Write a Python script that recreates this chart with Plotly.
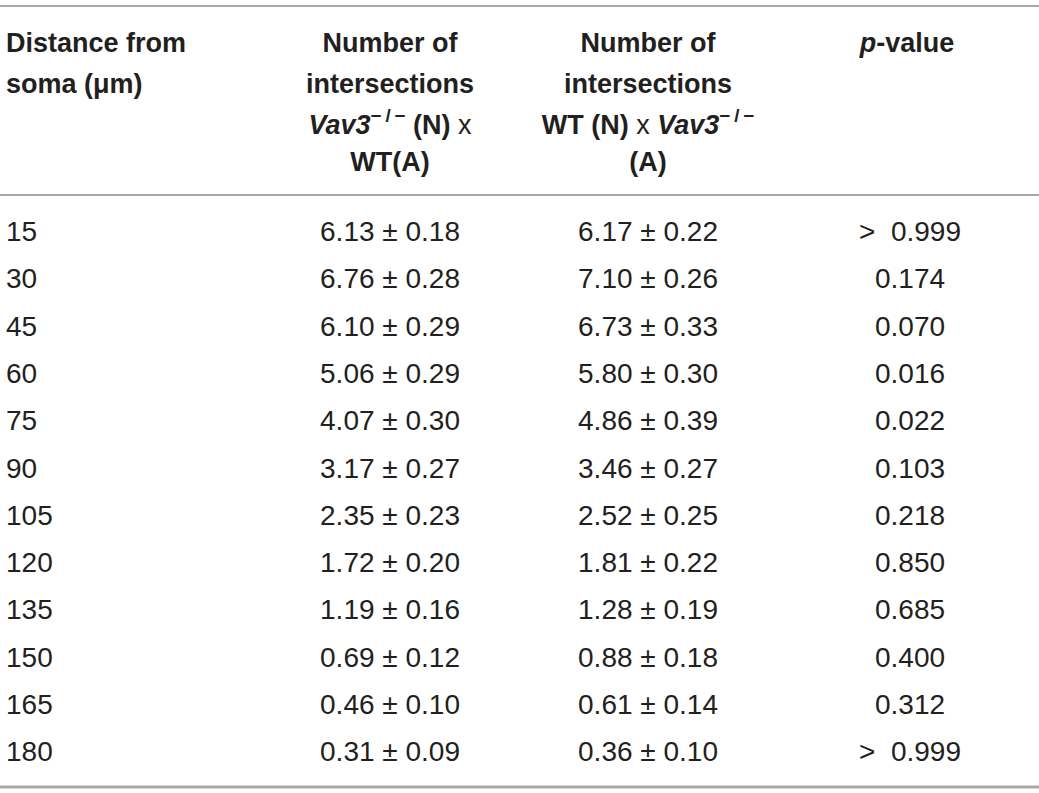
import plotly.graph_objects as go

# ---------------- data ----------------
distance = [15, 30, 45, 60, 75, 90, 105, 120, 135, 150, 165, 180]
ko_n_mean = [6.13, 6.76, 6.10, 5.06, 4.07, 3.17, 2.35, 1.72, 1.19, 0.69, 0.46, 0.31]
ko_n_sem = [0.18, 0.28, 0.29, 0.29, 0.30, 0.27, 0.23, 0.20, 0.16, 0.12, 0.10, 0.09]
wt_n_mean = [6.17, 7.10, 6.73, 5.80, 4.86, 3.46, 2.52, 1.81, 1.28, 0.88, 0.61, 0.36]
wt_n_sem = [0.22, 0.26, 0.33, 0.30, 0.39, 0.27, 0.25, 0.22, 0.19, 0.18, 0.14, 0.10]
p_values = [">  0.999", "0.174", "0.070", "0.016", "0.022", "0.103", "0.218",
            "0.850", "0.685", "0.400", "0.312", ">  0.999"]

vav = "<i>Vav3</i><sup>−\u2009/\u2009−</sup>"
header_col1 = ["Distance from", "soma (μm)"]
header_col2 = ["Number of", "intersections", vav + " (N) </b>x<b>", "WT(A)"]
header_col3 = ["Number of", "intersections", "WT (N) </b>x<b> " + vav, "(A)"]
header_col4 = ["<i>p</i>-value"]

# ---------------- layout constants ----------------
W, H = 1039, 793
TXT = "#231F20"
RULE = "#A8A8A8"
FONT = "Liberation Sans, Arial, Helvetica, sans-serif"
FS = 28
FSH = 27

row_y0, row_dy = 234, 47.3
head_y = [45, 86, 127, 164]
col_x = [6, 390, 648, 910]

row_y = [row_y0 + i * row_dy for i in range(len(distance))]

col2_txt = [f"{m:.2f} ± {s:.2f}" for m, s in zip(ko_n_mean, ko_n_sem)]
col3_txt = [f"{m:.2f} ± {s:.2f}" for m, s in zip(wt_n_mean, wt_n_sem)]

fig = go.Figure()

def add_text(xs, ys, texts, pos, bold=False):
    fig.add_trace(go.Scatter(
        x=xs, y=ys, mode="text", text=[f"<b>{t}</b>" if bold else t for t in texts],
        textposition=pos,
        textfont=dict(family=FONT, size=FSH if bold else FS, color=TXT),
        hoverinfo="skip", showlegend=False, cliponaxis=False))

# header
add_text([col_x[0]] * len(header_col1), head_y[:len(header_col1)], header_col1, "middle right", True)
add_text([col_x[1]] * len(header_col2), head_y[:len(header_col2)], header_col2, "middle center", True)
add_text([col_x[2]] * len(header_col3), head_y[:len(header_col3)], header_col3, "middle center", True)
add_text([col_x[3] - 3] * len(header_col4), head_y[:len(header_col4)], header_col4, "middle center", True)

# body
add_text([col_x[0]] * len(distance), row_y, [str(d) for d in distance], "middle right")
add_text([col_x[1]] * len(distance), row_y, col2_txt, "middle center")
add_text([col_x[2]] * len(distance), row_y, col3_txt, "middle center")
add_text([col_x[3]] * len(distance), row_y, p_values, "middle center")

# rules
for yy, lw in ((6, 2), (195, 2), (787, 3)):
    fig.add_shape(type="line", x0=0, x1=W, y0=yy, y1=yy, xref="x", yref="y",
                  line=dict(color=RULE, width=lw))

fig.update_layout(
    width=W, height=H, margin=dict(l=0, r=0, t=0, b=0),
    paper_bgcolor="white", plot_bgcolor="white",
    xaxis=dict(range=[0, W], visible=False, fixedrange=True),
    yaxis=dict(range=[H, 0], visible=False, fixedrange=True),
)

fig.write_html(
    "out.html",
    config={"displayModeBar": False},
    post_script="document.body.style.margin='0';document.body.style.overflow='hidden';",
)
